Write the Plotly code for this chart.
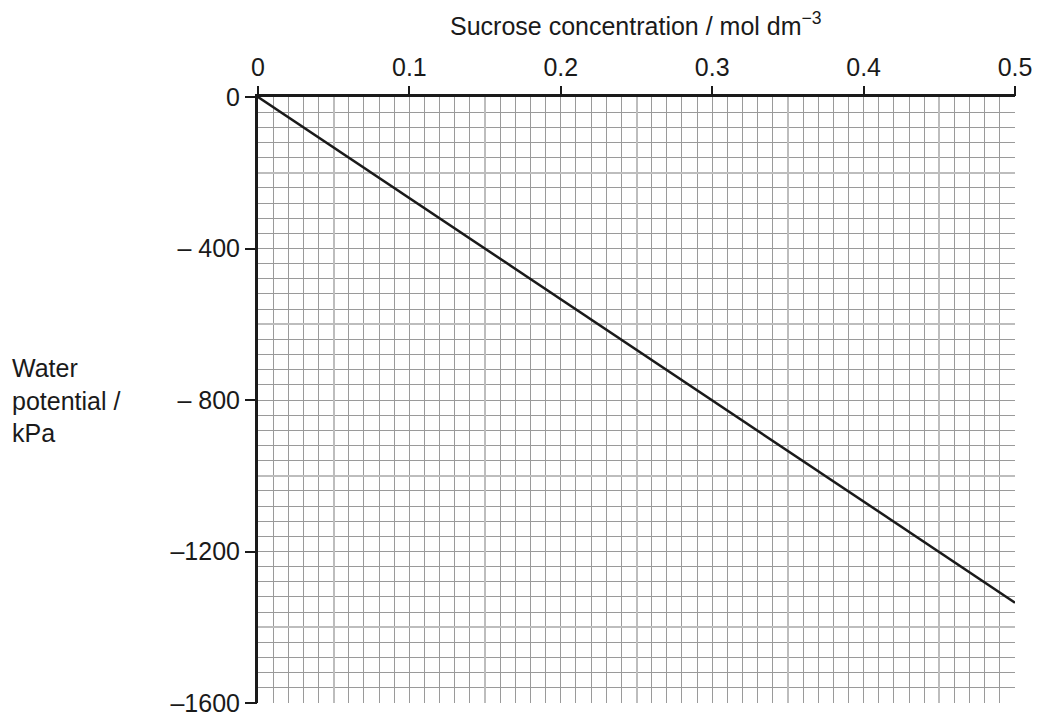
import plotly.graph_objects as go

concentration = [0.0, 0.5]
water_potential = [0, -1335]

x_tickvals = [0, 0.1, 0.2, 0.3, 0.4, 0.5]
x_ticktext = ["0", "0.1", "0.2", "0.3", "0.4", "0.5"]
y_tickvals = [0, -400, -800, -1200, -1600]
y_ticktext = ["0", "– 400", "– 800", "–1200", "–1600"]
x_mid = [0.05, 0.15, 0.25, 0.35, 0.45]
y_mid = [-200, -600, -1000, -1400]

FONT = "Liberation Sans"
GRID = "#9a9a9a"
MIDGRID = "#bdbdbd"
FS = 25
INK = "#1a1a1a"

fig = go.Figure()
fig.add_trace(go.Scatter(x=[0.25], y=[-800], xaxis="x2", yaxis="y2", mode="markers",
                         marker=dict(opacity=0), showlegend=False, hoverinfo="skip"))
fig.add_trace(go.Scatter(x=concentration, y=water_potential, mode="lines",
                         line=dict(color=INK, width=2.5), showlegend=False,
                         hoverinfo="skip"))

fig.update_layout(
    width=1032, height=710,
    margin=dict(l=250, r=25, t=89, b=15),
    paper_bgcolor="white", plot_bgcolor="white",
    font=dict(family=FONT, size=FS, color=INK),
    # main axes: grid only (mid lines thicker/lighter, minor fine lines)
    xaxis=dict(side="top", range=[0, 0.5], tickvals=x_mid, showticklabels=False, ticks="",
               showline=True, linecolor=INK, linewidth=2.5,
               showgrid=True, gridcolor=MIDGRID, gridwidth=2, zeroline=False,
               minor=dict(dtick=0.01, tick0=0, showgrid=True, gridcolor=GRID, gridwidth=1),
               fixedrange=True, automargin=False, layer="above traces"),
    yaxis=dict(side="left", range=[-1600, 0], tickvals=y_mid, showticklabels=False, ticks="",
               showline=True, linecolor=INK, linewidth=2.5,
               showgrid=True, gridcolor=MIDGRID, gridwidth=2, zeroline=False,
               minor=dict(dtick=40, tick0=0, showgrid=True, gridcolor=GRID, gridwidth=1),
               fixedrange=True, automargin=False, layer="above traces"),
    # overlay axes: ticks and labels
    xaxis2=dict(overlaying="x", side="top", range=[0, 0.5], tickvals=x_tickvals,
                ticktext=x_ticktext, ticks="outside", ticklen=10, tickwidth=1.5,
                tickcolor=INK, tickfont=dict(family=FONT, size=FS, color=INK),
                showgrid=False, zeroline=False, showline=False, automargin=False,
                fixedrange=True),
    yaxis2=dict(overlaying="y", side="left", range=[-1600, 0], tickvals=y_tickvals,
                ticktext=y_ticktext, ticks="outside", ticklen=12, tickwidth=1.5,
                tickcolor=INK, tickfont=dict(family=FONT, size=FS, color=INK),
                showgrid=False, zeroline=False, showline=False, automargin=False,
                fixedrange=True),
    annotations=[
        dict(text="Sucrose concentration / mol dm<sup>−3</sup>", xref="paper", yref="paper",
             x=0.499, y=1.121, xanchor="center", yanchor="middle", showarrow=False,
             font=dict(family=FONT, size=FS, color=INK)),
        dict(text="Water<br>potential /<br>kPa", xref="paper", yref="paper",
             x=-0.327, y=0.50, xanchor="left", yanchor="middle", align="left",
             showarrow=False, font=dict(family=FONT, size=FS, color=INK)),
    ],
)

fig.write_html("out.html")
